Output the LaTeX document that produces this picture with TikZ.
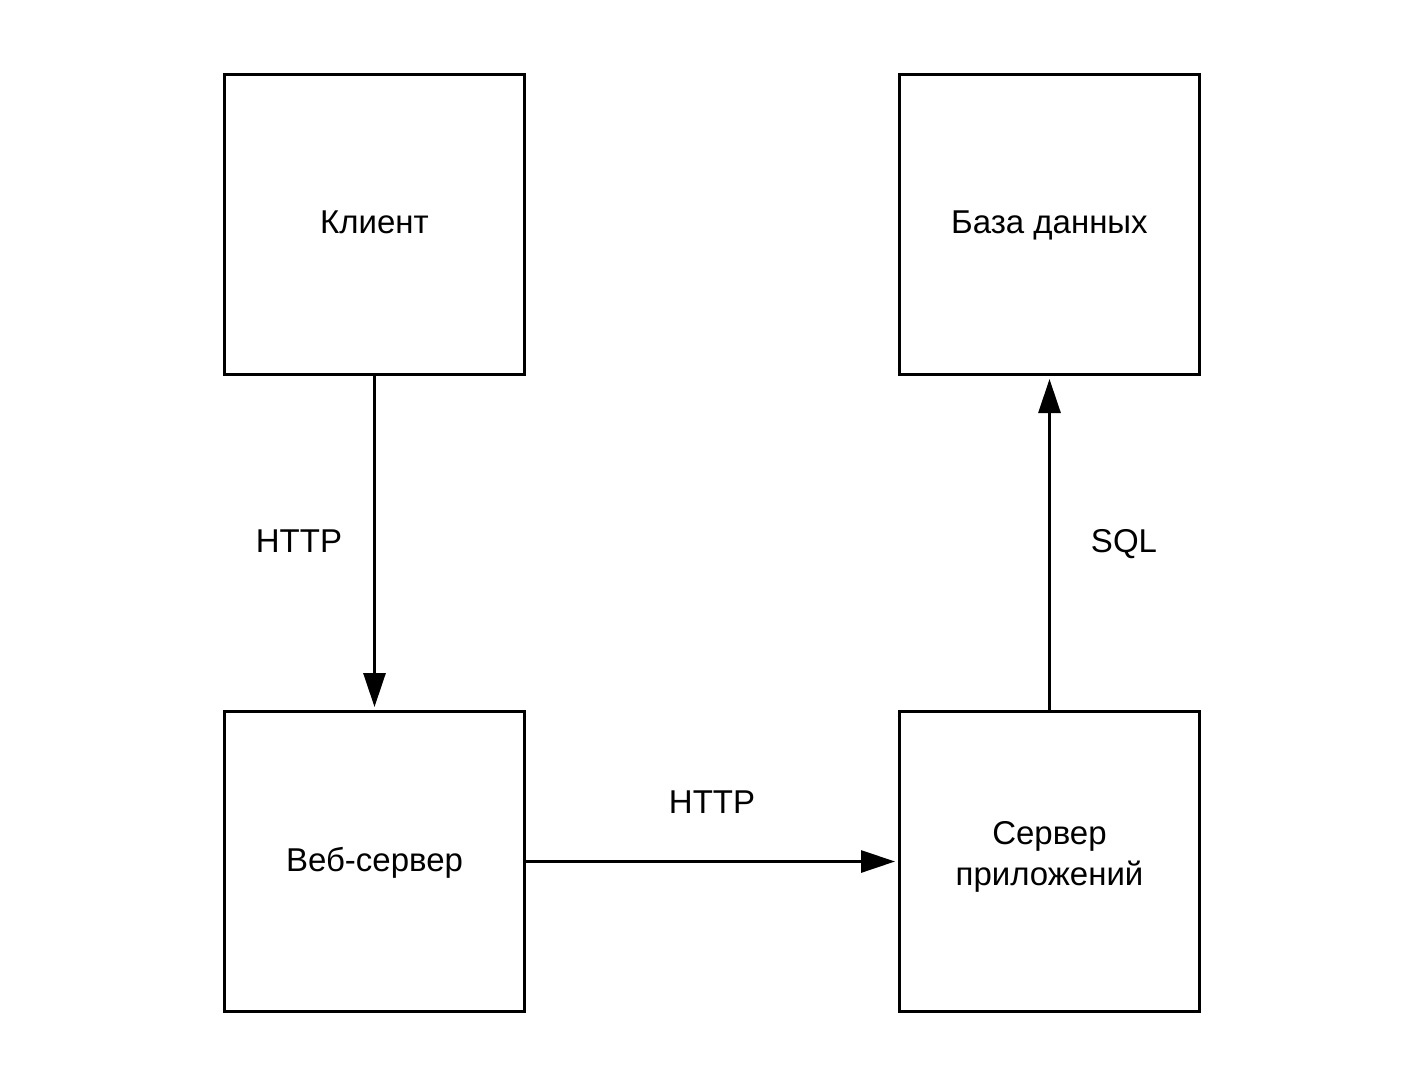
\documentclass[tikz,border=0pt]{standalone}
\usepackage{fontspec}
\setmainfont{Liberation Sans}
\usetikzlibrary{arrows.meta}
\begin{document}
\begin{tikzpicture}[x=0.5pt,y=-0.5pt,
  box/.style={draw,line width=1.5pt,minimum width=150pt,minimum height=150pt,inner sep=0pt,align=center},
  txt/.style={inner sep=0pt,align=center,font=\fontsize{16.5pt}{20.5pt}\selectfont},
  one/.style={txt,text height=12pt,text depth=3.8pt},
  conn/.style={line width=1.5pt,-{Triangle[length=17pt,width=11pt]},shorten >=1.5pt}]
\useasboundingbox (0,0) rectangle (1425,1088);
\node[box] (client) at (374.5,224.5) {};
\node[box] (db) at (1049.5,224.5) {};
\node[box] (web) at (374.5,861.5) {};
\node[box] (app) at (1049.5,861.5) {};
\node[one] (clienttext) at (374.5,225) {Клиент};
\node[one] (dbtext) at (1049.5,225) {База данных};
\node[one] (webtext) at (374.5,863) {Веб-сервер};
\node[txt] (apptext) at (1049.5,857) {Сервер\\приложений};
\draw[conn] (client) -- (web);
\draw[conn] (web) -- (app);
\draw[conn] (app) -- (db);
\node[one] (l1) at (299,544) {HTTP};
\node[one] (l2) at (712,805) {HTTP};
\node[one] (l3) at (1124,544) {SQL};
\end{tikzpicture}
\end{document}
